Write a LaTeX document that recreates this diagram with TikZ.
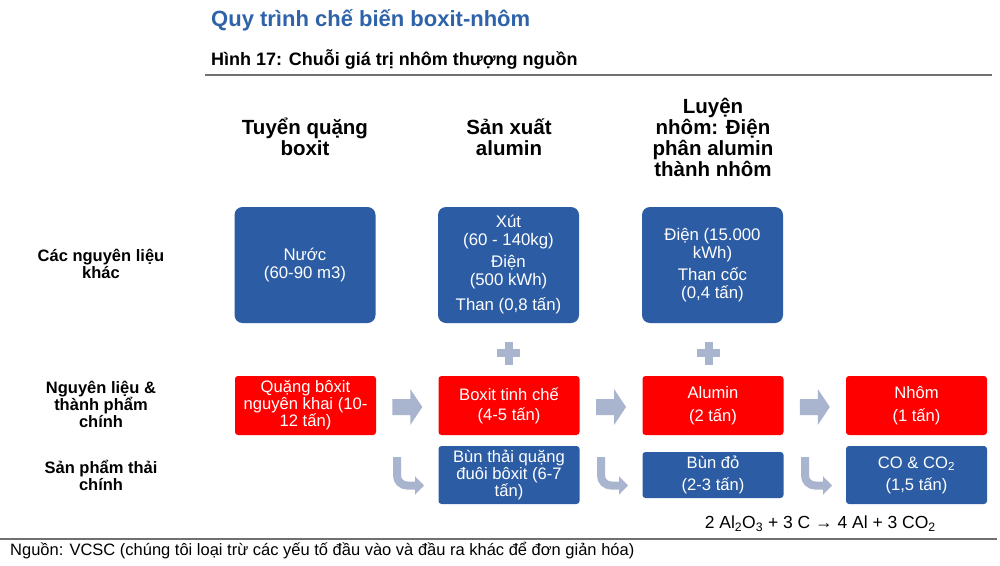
\documentclass[tikz,border=0pt]{standalone}
\usepackage{fontspec}
\setmainfont{Liberation Sans}
\usetikzlibrary{arrows.meta,calc}
\definecolor{boxblue}{HTML}{2C5DA4}
\definecolor{boxred}{HTML}{FE0000}
\definecolor{arrowgray}{HTML}{A9B4CF}
\definecolor{titleblue}{HTML}{2F63A9}
\definecolor{rulegray}{HTML}{707070}
\tikzset{
  inbox/.style={draw=none, fill=boxblue, rounded corners=8pt, text=white, align=center,
    minimum width=141pt, minimum height=116pt, inner sep=1pt,
    font=\fontsize{16.8}{18}\selectfont},
  redbox/.style={draw=none, fill=boxred, rounded corners=3pt, text=white, align=center,
    minimum width=141pt, minimum height=59pt, inner sep=1pt,
    font=\fontsize{16.6}{17}\selectfont},
  wastebox/.style={draw=none, fill=boxblue, rounded corners=3pt, text=white, align=center,
    minimum width=141pt, minimum height=58pt, inner sep=1pt,
    font=\fontsize{16.6}{17}\selectfont},
  colhead/.style={align=center, font=\bfseries\fontsize{20.5}{21}\selectfont},
  rowhead/.style={align=center, font=\bfseries\fontsize{16.5}{17}\selectfont},
  blockarrow/.style={fill=arrowgray, draw=none},
  bentarrow/.style={draw=arrowgray, line width=8pt, rounded corners=10pt,
    -{Triangle[width=18pt,length=9pt]}},
  plusbar/.style={fill=arrowgray, draw=none}
}
\begin{document}
\begin{tikzpicture}[x=1pt,y=-1pt]
\useasboundingbox (0,0) rectangle (1000,565);
\fill[white] (0,0) rectangle (1000,565);

% titles
\node[anchor=west, text=titleblue, font=\bfseries\fontsize{22}{26}\selectfont, inner sep=0pt] (title) at (211,20) {Quy trình chế biến boxit-nhôm};
\node[anchor=west, font=\bfseries\fontsize{18}{21}\selectfont, inner sep=0pt] (subtitle) at (211,59) {Hình 17: Chuỗi giá trị nhôm thượng nguồn};
\draw[rulegray, line width=2pt] (205,75) -- (992,75);

% column headers
\node[colhead] (h1) at (305,137) {Tuyển quặng\\boxit};
\node[colhead] (h2) at (509,137) {Sản xuất\\alumin};
\node[colhead] (h3) at (713,137.5) {Luyện\\nhôm: Điện\\phân alumin\\thành nhôm};

% row headers
\node[rowhead] (r1) at (101,263.5) {Các nguyên liệu\\khác};
\node[rowhead] (r2) at (101,404.5) {Nguyên liệu \&\\thành phẩm\\chính};
\node[rowhead] (r3) at (101,475) {Sản phẩm thải\\chính};

% input boxes
\node[inbox] (in1) at (305,265) {Nước\\(60-90 m3)};
\node[inbox] (in2) at (508.5,265) {Xút\\(60 - 140kg)\\[4pt]Điện\\(500 kWh)\\[7pt]Than (0,8 tấn)};
\node[inbox] (in3) at (712.5,265) {Điện (15.000\\kWh)\\[4pt]Than cốc\\(0,4 tấn)};

% plus signs
\fill[plusbar] (497,349) rectangle (520,357);
\fill[plusbar] (504.5,341.5) rectangle (512.5,364.5);
\fill[plusbar] (697,349) rectangle (720,357);
\fill[plusbar] (704.5,341.5) rectangle (712.5,364.5);

% main products
\node[redbox] (p1) at (305.5,405.5) {Quặng bôxit\\nguyên khai (10-\\12 tấn)};
\node[redbox] (p2) at (509,405.5) {Boxit tinh chế\\[3pt](4-5 tấn)};
\node[redbox] (p3) at (713,405.5) {Alumin\\[6pt](2 tấn)};
\node[redbox] (p4) at (916.5,405.5) {Nhôm\\[6pt](1 tấn)};

% block arrows
\foreach \a/\b/\n in {p1/p2/m1, p2/p3/m2, p3/p4/m3}{
  \coordinate (\n) at ($(\a.east)!0.5!(\b.west)+(0,1.5)$);
  \fill[blockarrow] ($(\n)+(-15,-8)$) -- ($(\n)+(3,-8)$) -- ($(\n)+(3,-18)$) -- ($(\n)+(15,0)$)
     -- ($(\n)+(3,18)$) -- ($(\n)+(3,8)$) -- ($(\n)+(-15,8)$) -- cycle;
}

% waste boxes
\node[wastebox] (w1) at (509,475) {Bùn thải quặng\\đuôi bôxit (6-7\\tấn)};
\node[wastebox, minimum height=46pt] (w2) at (713,475) {Bùn đỏ\\[5pt](2-3 tấn)};
\node[wastebox] (w3) at (916.5,475) {CO \& CO\textsubscript{2}\\[5pt](1,5 tấn)};

% bent arrows
\coordinate (b1s) at (397,457);
\coordinate (b1e) at (424,485.5);
\draw[bentarrow] (b1s) |- (b1e);
\coordinate (b2s) at (601,457);
\coordinate (b2e) at (628,485.5);
\draw[bentarrow] (b2s) |- (b2e);
\coordinate (b3s) at (805,457);
\coordinate (b3e) at (832,485.5);
\draw[bentarrow] (b3s) |- (b3e);

% equation
\node[anchor=east, font=\fontsize{17.5}{20}\selectfont, inner sep=0pt] (eq) at (936,524) {2 Al\textsubscript{2}O\textsubscript{3} + 3 C → 4 Al + 3 CO\textsubscript{2}};

% footer
\draw[rulegray, line width=1.5pt] (0,539) -- (997,539);
\node[anchor=west, font=\fontsize{16.5}{19}\selectfont, inner sep=0pt] (src) at (10,551) {Nguồn: VCSC (chúng tôi loại trừ các yếu tố đầu vào và đầu ra khác để đơn giản hóa)};
\end{tikzpicture}
\end{document}
